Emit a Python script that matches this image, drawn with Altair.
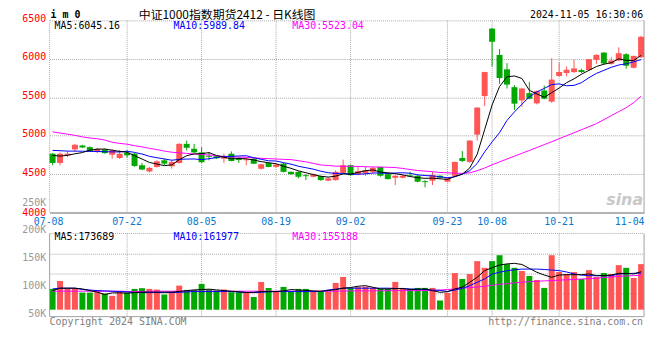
import altair as alt
import numpy as np
import pandas as pd

# ---------------- data ----------------
dates = [
    "07-08", "07-09", "07-10", "07-11", "07-12", "07-15", "07-16", "07-17", "07-18", "07-19",
    "07-22", "07-23", "07-24", "07-25", "07-26", "07-29", "07-30", "07-31", "08-01", "08-02",
    "08-05", "08-06", "08-07", "08-08", "08-09", "08-12", "08-13", "08-14", "08-15", "08-16",
    "08-19", "08-20", "08-21", "08-22", "08-23", "08-26", "08-27", "08-28", "08-29", "08-30",
    "09-02", "09-03", "09-04", "09-05", "09-06", "09-09", "09-10", "09-11", "09-12", "09-13",
    "09-18", "09-19", "09-20", "09-23", "09-24", "09-25", "09-26", "09-27", "09-30", "10-08",
    "10-09", "10-10", "10-11", "10-14", "10-15", "10-16", "10-17", "10-18", "10-21", "10-22",
    "10-23", "10-24", "10-25", "10-28", "10-29", "10-30", "10-31", "11-01", "11-04", "11-05",
]
opens = [
    4766, 4646, 4744, 4822, 4873, 4852, 4787, 4822, 4753, 4710,
    4779, 4766, 4616, 4535, 4594, 4680, 4603, 4646, 4894, 4830,
    4783, 4740, 4732, 4702, 4766, 4697, 4680, 4702, 4569, 4646,
    4594, 4637, 4530, 4530, 4486, 4466, 4475, 4415, 4423, 4517,
    4616, 4500, 4509, 4530, 4594, 4500, 4453, 4453, 4484, 4479,
    4408, 4415, 4479, 4402, 4479, 4710, 4659, 5014, 5516, 6393,
    6051, 5863, 5631, 5460, 5554, 5421, 5588, 5443, 5777, 5815,
    5828, 5854, 5854, 5987, 6081, 5935, 5978, 6060, 5884, 6021,
]
highs = [
    4775, 4783, 4800, 4894, 4882, 4860, 4843, 4830, 4822, 4817,
    4809, 4774, 4646, 4594, 4680, 4702, 4680, 4903, 4937, 4894,
    4852, 4787, 4740, 4766, 4796, 4723, 4710, 4710, 4637, 4650,
    4633, 4646, 4535, 4535, 4500, 4509, 4479, 4458, 4552, 4689,
    4625, 4594, 4594, 4594, 4594, 4505, 4487, 4496, 4530, 4487,
    4423, 4530, 4487, 4453, 4663, 4800, 4940, 5370, 5832, 6400,
    6128, 5944, 5657, 5623, 5700, 5588, 5653, 6008, 5953, 5901,
    5987, 5871, 5999, 6060, 6085, 6021, 6150, 6073, 6042, 6300,
]
lows = [
    4616, 4616, 4723, 4787, 4839, 4792, 4774, 4766, 4702, 4697,
    4715, 4594, 4552, 4522, 4586, 4616, 4573, 4637, 4809, 4774,
    4646, 4680, 4697, 4646, 4668, 4646, 4616, 4633, 4560, 4590,
    4586, 4522, 4492, 4445, 4423, 4458, 4415, 4410, 4415, 4509,
    4479, 4487, 4479, 4509, 4466, 4432, 4359, 4445, 4466, 4393,
    4329, 4359, 4445, 4393, 4466, 4659, 4646, 4937, 5387, 5901,
    5674, 5614, 5336, 5374, 5473, 5408, 5473, 5430, 5768, 5773,
    5815, 5815, 5846, 5935, 5923, 5923, 5970, 5871, 5875, 6008,
]
closes = [
    4646, 4766, 4766, 4882, 4847, 4800, 4830, 4774, 4809, 4766,
    4745, 4607, 4560, 4582, 4667, 4637, 4659, 4894, 4843, 4783,
    4655, 4727, 4706, 4732, 4672, 4684, 4693, 4637, 4629, 4594,
    4625, 4530, 4500, 4466, 4474, 4500, 4423, 4445, 4530, 4616,
    4487, 4539, 4552, 4582, 4479, 4436, 4479, 4479, 4472, 4402,
    4396, 4487, 4453, 4445, 4659, 4672, 4937, 5366, 5828, 6222,
    5751, 5665, 5417, 5614, 5481, 5580, 5481, 5730, 5828, 5858,
    5875, 5828, 5995, 6051, 5940, 5978, 6073, 5910, 6038, 6287,
]
ma5 = [
    4744, 4735, 4745, 4765, 4781, 4812, 4825, 4827, 4812, 4796,
    4785, 4740, 4697, 4652, 4632, 4611, 4621, 4688, 4740, 4763,
    4767, 4780, 4743, 4721, 4699, 4704, 4700, 4684, 4663, 4649,
    4636, 4603, 4576, 4543, 4519, 4494, 4473, 4462, 4474, 4503,
    4500, 4523, 4545, 4555, 4528, 4518, 4506, 4491, 4469, 4454,
    4446, 4448, 4440, 4432, 4470, 4500, 4580, 4760, 5080, 5400,
    5640, 5766, 5777, 5745, 5590, 5545, 5500, 5560, 5620, 5690,
    5740, 5800, 5850, 5900, 5930, 5950, 6000, 5980, 5978, 6045,
]
ma10 = [
    4809, 4805, 4800, 4800, 4798, 4796, 4795, 4792, 4790, 4789,
    4799, 4783, 4762, 4732, 4714, 4698, 4681, 4693, 4696, 4698,
    4689, 4701, 4716, 4731, 4731, 4737, 4740, 4714, 4693, 4674,
    4671, 4650, 4630, 4603, 4584, 4565, 4538, 4519, 4509, 4511,
    4498, 4499, 4504, 4515, 4515, 4509, 4515, 4518, 4512, 4491,
    4482, 4477, 4467, 4453, 4466, 4500, 4545, 4640, 4790, 4920,
    5040, 5200, 5310, 5410, 5505, 5570, 5615, 5665, 5674, 5650,
    5655, 5690, 5755, 5810, 5850, 5890, 5920, 5935, 5960, 5990,
]
ma30 = [
    5050, 5035, 5020, 5005, 4985, 4970, 4960, 4945, 4915, 4900,
    4890, 4870, 4855, 4835, 4820, 4800, 4785, 4778, 4770, 4763,
    4755, 4750, 4740, 4730, 4723, 4721, 4719, 4712, 4706, 4702,
    4697, 4693, 4689, 4675, 4660, 4640, 4620, 4612, 4605, 4603,
    4603, 4600, 4597, 4594, 4592, 4590, 4586, 4575, 4560, 4548,
    4540, 4532, 4522, 4518, 4513, 4510, 4517, 4545, 4580, 4622,
    4660, 4697, 4734, 4771, 4808, 4846, 4884, 4922, 4961, 5000,
    5039, 5078, 5117, 5157, 5209, 5261, 5313, 5365, 5430, 5515,
]
# volume, in thousands (K) as on the panel's axis
vol = [
    94.1, 108.4, 95.4, 95.4, 87.5, 87.5, 91.8, 85.8, 81.7, 89.3,
    87.5, 94.1, 95.4, 94.1, 92.9, 84.0, 89.3, 100.0, 92.3, 92.3,
    103.0, 92.9, 91.1, 92.9, 88.3, 88.3, 88.3, 79.4, 106.6, 95.9,
    89.3, 97.7, 89.3, 94.1, 94.1, 89.3, 89.3, 89.3, 104.8, 115.5,
    95.4, 97.2, 98.2, 95.9, 94.1, 94.1, 106.6, 94.1, 94.1, 95.9,
    95.9, 95.9, 73.3, 87.0, 122.6, 111.9, 120.8, 144.0, 132.0, 144.0,
    154.6, 138.6, 132.0, 126.2, 117.3, 110.1, 95.9, 154.6, 124.4, 120.8,
    124.4, 111.9, 127.9, 115.5, 122.6, 120.8, 136.8, 132.0, 113.7, 138.6,
]
vma5 = [
    91.1, 95.4, 95.4, 95.4, 94.1, 91.1, 88.3, 84.0, 87.0, 87.0,
    86.5, 87.5, 88.3, 88.3, 88.3, 88.3, 88.3, 89.5, 91.0, 92.3,
    92.9, 93.6, 92.3, 91.1, 90.0, 89.0, 87.5, 88.0, 89.3, 89.3,
    89.3, 90.5, 92.9, 92.0, 91.5, 90.5, 90.0, 91.0, 93.0, 95.4,
    96.5, 98.9, 100.0, 97.0, 94.1, 94.1, 94.5, 95.0, 92.9, 93.5,
    94.1, 91.0, 88.0, 89.0, 94.1, 97.2, 106.0, 115.0, 127.0, 132.0,
    137.0, 139.0, 140.0, 138.0, 131.0, 124.0, 119.0, 115.0, 119.0, 119.6,
    119.6, 119.6, 121.0, 118.0, 118.0, 119.0, 122.0, 122.0, 121.0, 125.0,
]
vma10 = [
    94.1, 95.4, 95.4, 95.4, 93.0, 92.0, 91.1, 90.5, 89.9, 89.3,
    88.8, 87.8, 87.5, 87.5, 87.5, 87.5, 87.5, 88.0, 88.7, 89.3,
    89.3, 89.3, 89.3, 89.3, 89.3, 88.5, 87.8, 87.5, 88.0, 89.0,
    89.3, 89.3, 89.3, 89.3, 89.3, 89.3, 89.3, 92.3, 93.5, 95.4,
    95.4, 95.4, 95.4, 95.4, 95.4, 95.4, 95.0, 94.5, 94.0, 93.6,
    93.0, 92.0, 91.5, 89.5, 92.0, 95.0, 100.0, 106.0, 112.0, 120.8,
    124.0, 126.7, 128.5, 129.7, 129.7, 129.7, 129.0, 128.0, 127.0, 124.5,
    121.0, 119.0, 117.8, 117.8, 117.8, 117.8, 120.8, 121.5, 122.1, 122.5,
]
vma30 = [
    90.0, 90.0, 90.0, 90.0, 90.0, 90.0, 90.0, 90.0, 90.0, 90.0,
    89.5, 89.5, 89.5, 90.0, 90.0, 90.0, 90.0, 90.0, 90.0, 90.0,
    90.0, 90.0, 90.0, 90.0, 90.0, 90.0, 90.0, 90.0, 90.0, 90.0,
    90.0, 90.0, 90.0, 90.0, 90.0, 90.0, 90.0, 90.0, 90.0, 90.3,
    90.5, 90.5, 90.5, 90.5, 90.8, 90.8, 91.0, 91.0, 91.0, 91.0,
    91.1, 91.1, 92.0, 93.0, 94.0, 95.5, 96.5, 97.5, 99.0, 100.5,
    102.5, 103.5, 105.0, 106.0, 107.0, 107.8, 108.5, 109.0, 109.8, 110.5,
    111.0, 111.9, 112.5, 113.3, 114.5, 115.5, 116.5, 117.3, 118.0, 118.5,
]
tick_dates = ["07-08", "07-22", "08-05", "08-19", "09-02", "09-23", "10-08", "10-21", "11-04"]
price_ticks = [4000, 4500, 5000, 5500, 6000, 6500]
vol_ticks = [50, 100, 150, 200, 250]
VOL_FLOOR = 56.8  # volume panel bar floor, in K

title_text = "中证1000指数期货2412 - 日K线图"
stamp_text = "2024-11-05 16:30:06"
price_ma_texts = ["MA5:6045.16", "MA10:5989.84", "MA30:5523.04"]
vol_ma_texts = ["MA5:173689", "MA10:161977", "MA30:155188"]

# ---------------- build ----------------
df = pd.DataFrame({
    "date": dates, "open": opens, "high": highs, "low": lows, "close": closes,
    "ma5": ma5, "ma10": ma10, "ma30": ma30,
    "vol": vol, "vma5": vma5, "vma10": vma10, "vma30": vma30,
})
df["dir"] = np.where(df["close"] >= df["open"], "up", "down")
grid_df = pd.DataFrame({"date": tick_dates[1:-1]})
one = pd.DataFrame({"k": [0]})

RED = "#ff5555"
GREEN = "#00a800"
GRID = "#a8a8a8"
FRAME = "#a0a0a0"
MONO = "DejaVu Sans Mono"
W, PH, VT, VB = 600, 194, 215, 299

edge_test = f"datum.value == '{tick_dates[0]}' || datum.value == '{tick_dates[-1]}'"
xscale = alt.Scale(domain=dates, paddingInner=0.2, paddingOuter=0)
xaxis = alt.Axis(values=tick_dates, orient="bottom", offset=PH - VB, domain=True,
                 domainColor=FRAME, domainWidth=1.5, ticks=False, grid=False,
                 labelAngle=0, labelColor="#0a78d2", labelFont=MONO, labelFontSize=10,
                 labelPadding=4, title=None,
                 labelOffset={"condition": {"test": edge_test, "value": -4}, "value": 0})
X = alt.X("date:O", scale=xscale, axis=xaxis, title=None)

pscale = alt.Scale(domain=[4000, 6500], range=[PH, 0], nice=False, zero=False)
paxis = alt.Axis(values=price_ticks, orient="left", grid=True, gridColor=GRID,
                 gridDash=[1, 1], ticks=False, domain=False, labelColor="#ff0000",
                 labelFont=MONO, labelFontSize=10, labelPadding=4,
                 labelOffset={"condition": {"test": f"datum.value == {price_ticks[0]}", "value": 0},
                              "value": -2},
                 format="d", title=None)
vscale = alt.Scale(domain=[40, 260], range=[301.42, 177.78], nice=False, zero=False)
vaxis = alt.Axis(values=vol_ticks, orient="left", grid=False, ticks=False, domain=False,
                 labelColor="#999999", labelFont=MONO, labelFontSize=10, labelPadding=4,
                 labelExpr="datum.value + 'K'", title=None)

color = alt.Color("dir:N", scale=alt.Scale(domain=["up", "down"], range=[RED, GREEN]), legend=None)
base = alt.Chart(df)


def frame_rule(dash=None, **enc):
    kw = {"color": FRAME if dash is None else GRID, "strokeWidth": 1}
    if dash is not None:
        kw["strokeDash"] = dash
    return alt.Chart(one).mark_rule(**kw).encode(**enc)


def note(text, x, y, color="black", align="left", size=10, font=MONO, weight="normal", style="normal"):
    return alt.Chart(one).mark_text(text=text, align=align, baseline="middle", font=font,
                                    fontSize=size, color=color, fontWeight=weight,
                                    fontStyle=style).encode(x=alt.value(x), y=alt.value(y))


layers = [
    # price panel grid / frame
    alt.Chart(grid_df).mark_rule(color=GRID, strokeDash=[1, 1]).encode(x=X, y=alt.value(0), y2=alt.value(PH)),
    frame_rule(dash=[1, 1], x=alt.value(0), y=alt.value(0), y2=alt.value(PH)),
    frame_rule(x=alt.value(W), y=alt.value(0), y2=alt.value(PH)),
    # volume panel grid / frame
    alt.Chart(grid_df).mark_rule(color=GRID, strokeDash=[1, 1]).encode(x=X, y=alt.value(VT), y2=alt.value(VB)),
    frame_rule(dash=[1, 1], x=alt.value(0), x2=alt.value(W), y=alt.value(VT)),
    frame_rule(dash=[1, 1], x=alt.value(0), x2=alt.value(W), y=alt.value(236)),
    frame_rule(dash=[1, 1], x=alt.value(0), x2=alt.value(W), y=alt.value(256)),
    frame_rule(dash=[1, 1], x=alt.value(0), x2=alt.value(W), y=alt.value(276)),
    # candles
    base.mark_rule(strokeWidth=1).encode(
        x=X, y=alt.Y("low:Q", scale=pscale, axis=paxis, title=None), y2="high:Q", color=color),
    base.mark_bar().encode(
        x=X, y=alt.Y("open:Q", scale=pscale, axis=None), y2="close:Q", color=color),
    base.mark_line(color="#ff00ff", strokeWidth=1).encode(x=X, y=alt.Y("ma30:Q", scale=pscale, axis=None)),
    base.mark_line(color="#0000ff", strokeWidth=1).encode(x=X, y=alt.Y("ma10:Q", scale=pscale, axis=None)),
    base.mark_line(color="#000000", strokeWidth=1).encode(x=X, y=alt.Y("ma5:Q", scale=pscale, axis=None)),
    # volume
    base.mark_bar().encode(
        x=X, y=alt.Y("vol:Q", scale=vscale, axis=vaxis, title=None), y2=alt.datum(VOL_FLOOR), color=color),
    base.mark_line(color="#ff00ff", strokeWidth=1).encode(x=X, y=alt.Y("vma30:Q", scale=vscale, axis=None)),
    base.mark_line(color="#0000ff", strokeWidth=1).encode(x=X, y=alt.Y("vma10:Q", scale=vscale, axis=None)),
    base.mark_line(color="#000000", strokeWidth=1).encode(x=X, y=alt.Y("vma5:Q", scale=vscale, axis=None)),
    # volume frame (solid)
    frame_rule(x=alt.value(0), y=alt.value(VT), y2=alt.value(VB)),
    frame_rule(x=alt.value(W), y=alt.value(VT), y2=alt.value(VB)),
    frame_rule(x=alt.value(0), x2=alt.value(W), y=alt.value(VB)),
    # texts
    note("i m 0", 1, -5.5, weight="bold"),
    note(title_text, 90, -5.5, size=12, font="Noto Sans CJK SC"),
    note(stamp_text, 599, -5.5, align="right"),
    note(price_ma_texts[0], 5, 5.5, color="#000000"),
    note(price_ma_texts[1], 125, 5.5, color="#0000ff"),
    note(price_ma_texts[2], 245, 5.5, color="#ff00ff"),
    note(vol_ma_texts[0], 5, 219, color="#000000"),
    note(vol_ma_texts[1], 125, 219, color="#0000ff"),
    note(vol_ma_texts[2], 245, 219, color="#ff00ff"),
    note("Copyright 2024 SINA.COM", 0, 304, color="#808080"),
    note("http://finance.sina.com.cn", 599, 304, color="#808080", align="right"),
    note("sina", 599, 181, color="#c8c8c8", align="right", size=16, font="DejaVu Sans",
         weight="bold", style="italic"),
]

chart = (
    alt.layer(*layers)
    .resolve_scale(y="independent")
    .properties(width=W, height=VB, autosize=alt.AutoSizeParams(type="none"),
                padding={"left": 42, "top": 11, "right": 8, "bottom": 14})
    .configure_view(stroke=None)
)

chart.save("out.html", embed_options={"renderer": "svg", "actions": False})
